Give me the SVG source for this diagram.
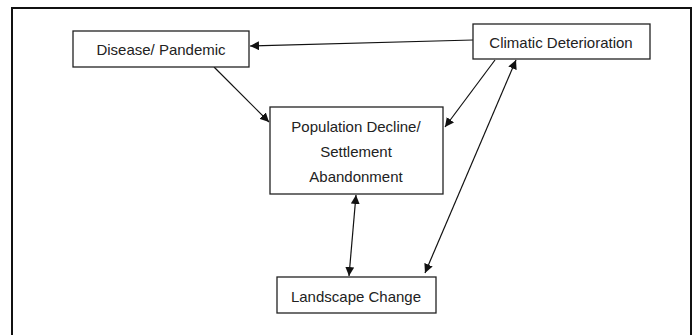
<svg xmlns="http://www.w3.org/2000/svg" width="696" height="335" viewBox="0 0 696 335">
<style>
.box{fill:#fff;stroke:#222;stroke-width:1.3}
.lbl{font-family:"Liberation Sans",Arial,sans-serif;font-size:15px;fill:#222;text-anchor:middle}
.con{stroke:#111;stroke-width:1.2;fill:none}
</style>
<defs>
<marker id="ah" viewBox="0 0 10 10" refX="10" refY="5" markerWidth="9" markerHeight="9" markerUnits="userSpaceOnUse" orient="auto-start-reverse">
<path d="M0,0 L10,5 L0,10 z" fill="#111"/>
</marker>
</defs>
<rect width="696" height="335" fill="#fff"/>
<path d="M12,335 V8 H691 V335" fill="none" stroke="#111" stroke-width="2"/>
<g id="connectors">
<line class="con" x1="473" y1="40" x2="250" y2="46" marker-end="url(#ah)"/>
<line class="con" x1="214" y1="67" x2="269" y2="122" marker-end="url(#ah)"/>
<line class="con" x1="495" y1="60" x2="445" y2="127" marker-end="url(#ah)"/>
<line class="con" x1="516" y1="60" x2="425" y2="273" marker-start="url(#ah)" marker-end="url(#ah)"/>
<line class="con" x1="356" y1="195" x2="349" y2="276" marker-start="url(#ah)" marker-end="url(#ah)"/>
</g>
<g id="disease">
<rect class="box" x="73" y="31" width="176" height="36"/>
<text class="lbl" x="161" y="55">Disease/ Pandemic</text>
</g>
<g id="climatic">
<rect class="box" x="473" y="24" width="177" height="35"/>
<text class="lbl" x="561" y="48">Climatic Deterioration</text>
</g>
<g id="population">
<rect class="box" x="270" y="107" width="173" height="87"/>
<text class="lbl" x="356" y="132">Population Decline/</text>
<text class="lbl" x="356" y="157">Settlement</text>
<text class="lbl" x="356" y="182">Abandonment</text>
</g>
<g id="landscape">
<rect class="box" x="277" y="277" width="159" height="36"/>
<text class="lbl" x="356" y="302">Landscape Change</text>
</g>
</svg>
